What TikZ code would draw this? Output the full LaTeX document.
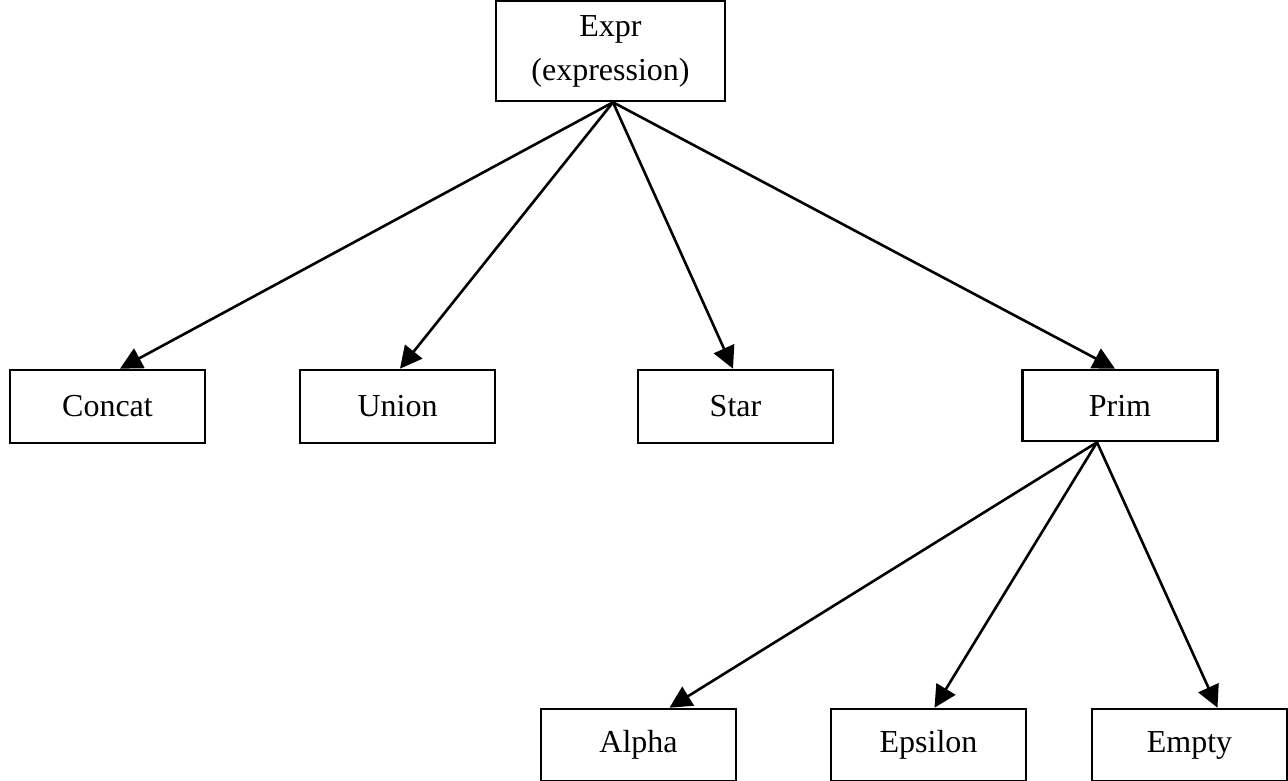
\documentclass[tikz,border=0pt]{standalone}
\usepackage{fontspec}
\setmainfont{Liberation Serif}
\usetikzlibrary{arrows.meta}
\begin{document}
\begin{tikzpicture}[x=1pt,y=-1pt,
  box/.style={draw=black,line width=2.6pt,rectangle,inner sep=0pt,font=\fontsize{32}{44}\selectfont,align=center},
  kid/.style={box,minimum width=195pt,minimum height=73pt},
  arr/.style={line width=2.6pt,-{Triangle[length=22pt,width=22pt]}}]
\useasboundingbox (0,0) rectangle (1288,781);
\node[box,minimum width=229pt,minimum height=100pt] (expr) at (610.5,51) {Expr\\(expression)};
\node[kid] (concat) at (107.5,406.5) {Concat};
\node[kid] (union) at (397.5,406.5) {Union};
\node[kid] (star) at (735.5,406.5) {Star};
\node[kid,minimum height=71pt] (prim) at (1120,405.5) {Prim};
\node[kid,minimum height=72pt] (alpha) at (638.5,745) {Alpha};
\node[kid,minimum height=72pt] (epsilon) at (928.5,745) {Epsilon};
\node[kid,minimum height=72pt] (empty) at (1189.5,745) {Empty};
\coordinate (ea) at ([xshift=2.5pt]expr.south);
\coordinate (pa) at ([xshift=-23pt]prim.south);
\draw[arr] (ea) -- ([xshift=12.5pt]concat.north);
\draw[arr] (ea) -- ([xshift=2.5pt]union.north);
\draw[arr] (ea) -- ([xshift=-2.5pt]star.north);
\draw[arr] (ea) -- ([xshift=-5pt]prim.north);
\draw[arr] (pa) -- ([xshift=31pt]alpha.north);
\draw[arr] (pa) -- ([xshift=6pt]epsilon.north);
\draw[arr] (pa) -- ([xshift=28pt]empty.north);
\end{tikzpicture}
\end{document}
